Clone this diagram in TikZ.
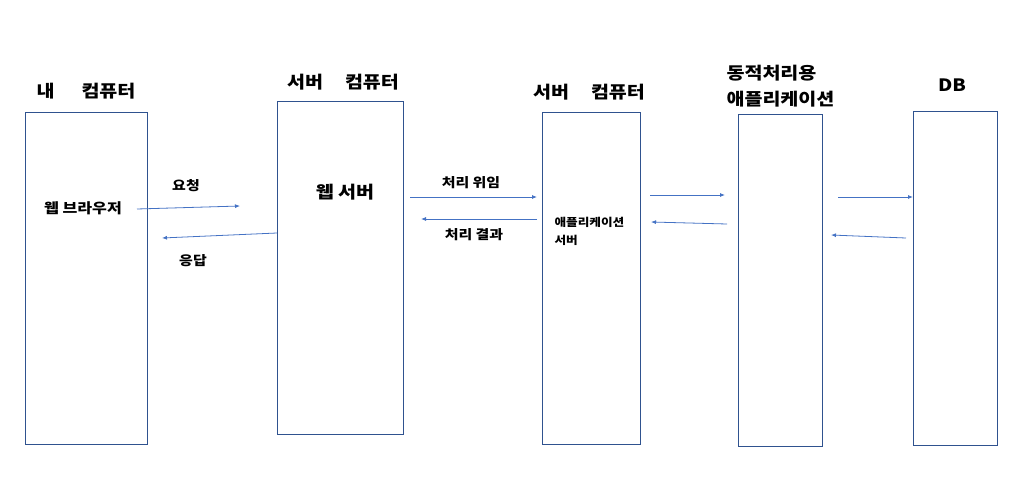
\documentclass[tikz,border=0pt]{standalone}
\usepackage{fontspec}
\setmainfont{Noto Sans CJK KR}[FakeStretch=1.15]
\usetikzlibrary{arrows.meta, positioning}
\definecolor{boxblue}{HTML}{2F528F}
\definecolor{flowblue}{HTML}{4472C4}

\tikzset{
  machine/.style={draw=boxblue, line width=0.9pt, inner sep=0pt},
  title/.style={font=\fontsize{17}{26}\selectfont\bfseries, align=left},
  msg/.style={font=\fontsize{13}{16}\selectfont\bfseries},
  flow/.style={flowblue, line width=0.8pt, -{Latex[length=5pt, width=4pt]}}
}

\begin{document}
\begin{tikzpicture}[x=1pt, y=-1pt]
        \useasboundingbox (0,0) rectangle (1015,495);

        % Boxes
        \node[machine, minimum width=122pt, minimum height=332pt] (pc) at (86,278) {};
        \node[machine, minimum width=126pt, minimum height=333pt] (web) at (340,267.5) {};
        \node[machine, minimum width=98pt, minimum height=332pt] (was) at (591,278) {};
        \node[machine, minimum width=84pt, minimum height=332pt] (app) at (780,280) {};
        \node[machine, minimum width=84pt, minimum height=334pt] (db) at (955,278) {};

        % Titles
        \node[title] (pc title) at (86,91) {내\hspace{27pt}컴퓨터};
        \node[title] (web title) at (343,82) {서버\hspace{22pt}컴퓨터};
        \node[title] (was title) at (589,92) {서버\hspace{22pt}컴퓨터};
        \node[title, anchor=west] (app title) at (723,86) {동적처리용\\애플리케이션};
        \node[title] (db title) at (952,85) {DB};

        % Inside the boxes
        \node[font=\fontsize{14}{16}\selectfont\bfseries] (browser) at (83,208) {웹 브라우저};
        \node[font=\fontsize{17}{20}\selectfont\bfseries] (server) at (345,192) {웹 서버};
        \node[font=\fontsize{11}{18}\selectfont\bfseries, align=left, anchor=west] (appsrv) at (551,231) {애플리케이션\\서버};

        % Messages
        \node[msg] (req) at (186,186) {요청};
        \node[msg] (res) at (193,261) {응답};
        \node[msg] (deleg) at (471,183) {처리 위임};
        \node[msg] (result) at (474,235) {처리 결과};

        % Arrows
        \coordinate (a1) at (137,209);  \coordinate (b1) at (240,206);
        \coordinate (a2) at (277,233);  \coordinate (b2) at (162,238);
        \coordinate (a3) at (410,197);  \coordinate (b3) at (537,197);
        \coordinate (a4) at (537,219);  \coordinate (b4) at (421,219);
        \coordinate (a5) at (650,195);  \coordinate (b5) at (725,195);
        \coordinate (a6) at (727,224);  \coordinate (b6) at (651,222);
        \coordinate (a7) at (838,197);  \coordinate (b7) at (913,197);
        \coordinate (a8) at (906,238);  \coordinate (b8) at (831,235);
        \foreach \i in {1,...,8}
            \draw[flow] (a\i) -- (b\i);
    \end{tikzpicture}
\end{document}
